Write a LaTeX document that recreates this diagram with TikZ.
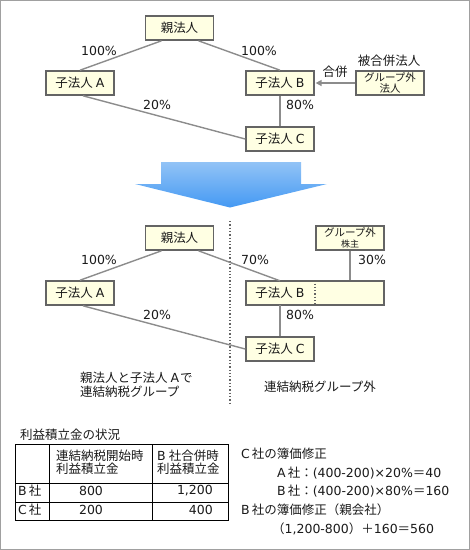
\documentclass[tikz,border=0pt]{standalone}
\usepackage{fontspec}
\setmainfont{DejaVu Sans}
\newfontfamily\jp{Noto Sans CJK JP}
\usetikzlibrary{arrows.meta,calc}
\newcommand\J[1]{{\jp #1}}
\definecolor{boxfill}{HTML}{FFFFE3}
\definecolor{boxline}{HTML}{646464}
\definecolor{connc}{HTML}{8C8C8C}
\definecolor{framec}{HTML}{A0A0A0}
\definecolor{arrtop}{HTML}{92C3F6}
\definecolor{arrbot}{HTML}{4499F3}
\definecolor{txt}{HTML}{1A1A1A}
\begin{document}
\begin{tikzpicture}[x=1pt,y=-1pt,
  font=\fontsize{12.5}{13.5}\selectfont, text=txt,
  box/.style={draw=boxline, line width=1.6pt, fill=boxfill, minimum width=68pt, minimum height=24pt, inner sep=0pt, align=center},
  plain/.style={minimum width=68pt, minimum height=24pt, inner sep=0pt},
  conn/.style={draw=connc, line width=1.4pt},
  lbl/.style={inner sep=0pt},
  small/.style={font=\fontsize{10.5}{10.5}\selectfont},
]
\useasboundingbox (0,0) rectangle (470,550);
\draw[framec, line width=1pt] (0.5,0.5) rectangle (469.5,549.5);

% ---------- top diagram ----------
\node[box] (P1) at (179.5,28) {\J{親法人}};
\node[box] (A1) at (80,83) {\J{子法人}\hspace{3pt}A};
\node[box] (B1) at (280,83) {\J{子法人}\hspace{3pt}B};
\node[box, small] (X1) at (390,83) {\J{グループ外}\\\J{法人}};
\node[box] (C1) at (280,139) {\J{子法人}\hspace{3pt}C};

\draw[conn] ([xshift=-18pt]P1.south) -- (A1.north);
\draw[conn] ([xshift=19pt]P1.south) -- (B1.north);
\draw[conn] ([xshift=3pt]A1.south) -- (C1.west);
\draw[conn] (B1.south) -- (C1.north);
\draw[conn, -{Triangle[length=6pt,width=6pt]}, shorten >=0.8pt] (X1.west) -- (B1.east);

\node[lbl] (l1) at (99,51) {100\%};
\node[lbl] (l2) at (259,51) {100\%};
\node[lbl] (l3) at (157,105) {20\%};
\node[lbl] (l4) at (300,105) {80\%};
\node[lbl] (l5) at (335,72) {\J{合併}};
\node[lbl] (l6) at (389,61) {\J{被合併法人}};

% ---------- big arrow ----------
\shade[top color=arrtop, bottom color=arrbot]
  (161,162) -- (301,162) -- (301,184) -- (327,184) -- (230,207.5) -- (135,184) -- (161,184) -- cycle;

% ---------- divider ----------
\coordinate (d1) at (230,221);
\coordinate (d2) at (230,403);
\draw[boxline, line width=1.3pt, dotted] (d1) -- (d2);

% ---------- lower diagram ----------
\node[box] (P2) at (179.5,238) {\J{親法人}};
\node[box] (A2) at (80,293) {\J{子法人}\hspace{3pt}A};
\node[box, minimum width=138pt] (B2w) at (315,293) {};
\node[plain] (B2) at (280,293) {\J{子法人}\hspace{3pt}B};
\draw[boxline, line width=1.3pt, dotted] (B2w.north) -- (B2w.south);
\node[box, small] (S2) at (350,238) {\J{グループ外}\\{\fontsize{9}{9}\selectfont\J{株主}}};
\node[box] (C2) at (280,349) {\J{子法人}\hspace{3pt}C};

\draw[conn] ([xshift=-18pt]P2.south) -- (A2.north);
\draw[conn] ([xshift=19pt]P2.south) -- (B2.north);
\draw[conn] ([xshift=3pt]A2.south) -- (C2.west);
\draw[conn] (B2.south) -- (C2.north);
\draw[conn] (S2.south) -- (S2.south |- B2w.north);

\node[lbl] (m1) at (99,260) {100\%};
\node[lbl] (m2) at (255,260) {70\%};
\node[lbl] (m3) at (372,260) {30\%};
\node[lbl] (m4) at (157,315) {20\%};
\node[lbl] (m5) at (300,315) {80\%};

\node[lbl, anchor=west, align=left] (g1) at (80,385) {\J{親法人と子法人}\hspace{3pt}A\hspace{1pt}\J{で}\\\J{連結納税グループ}};
\node[lbl] (g2) at (320,387) {\J{連結納税グループ外}};

% ---------- table ----------
\node[lbl, anchor=west] (tt) at (20,435) {\J{利益積立金の状況}};
\draw[black, line width=0.9pt] (15,444) rectangle (228,520);
\draw[black, line width=0.9pt] (49,444) -- (49,520) (152,444) -- (152,520)
  (15,483) -- (228,483) (15,502) -- (228,502);
\node[lbl, anchor=west, align=left] (h1) at (56,462.5) {\J{連結納税開始時}\\\J{利益積立金}};
\node[lbl, anchor=west, align=left] (h2) at (157,462.5) {B\hspace{3pt}\J{社合併時}\\\J{利益積立金}};
\node[lbl, anchor=west] (r1) at (18,491) {B\hspace{2pt}\J{社}};
\node[lbl] (r1a) at (91,491) {800};
\node[lbl, anchor=east] (r1b) at (213,491) {1,200};
\node[lbl, anchor=west] (r2) at (18,510) {C\hspace{2pt}\J{社}};
\node[lbl] (r2a) at (91,510) {200};
\node[lbl, anchor=east] (r2b) at (213,510) {400};

% ---------- right text ----------
\node[lbl, anchor=west] (t1) at (241,454) {C\hspace{2pt}\J{社の簿価修正}};
\node[lbl, anchor=west] (t2) at (277,473) {A\hspace{2pt}\J{社：}(400-200)×20\%\J{＝}40};
\node[lbl, anchor=west] (t3) at (277,491.5) {B\hspace{2pt}\J{社：}(400-200)×80\%\J{＝}160};
\node[lbl, anchor=west] (t4) at (241,510) {B\hspace{2pt}\J{社の簿価修正（親会社）}};
\node[lbl, anchor=west] (t5) at (272,529) {\J{（}1,200-800\J{）＋}160\J{＝}560};
\end{tikzpicture}
\end{document}
